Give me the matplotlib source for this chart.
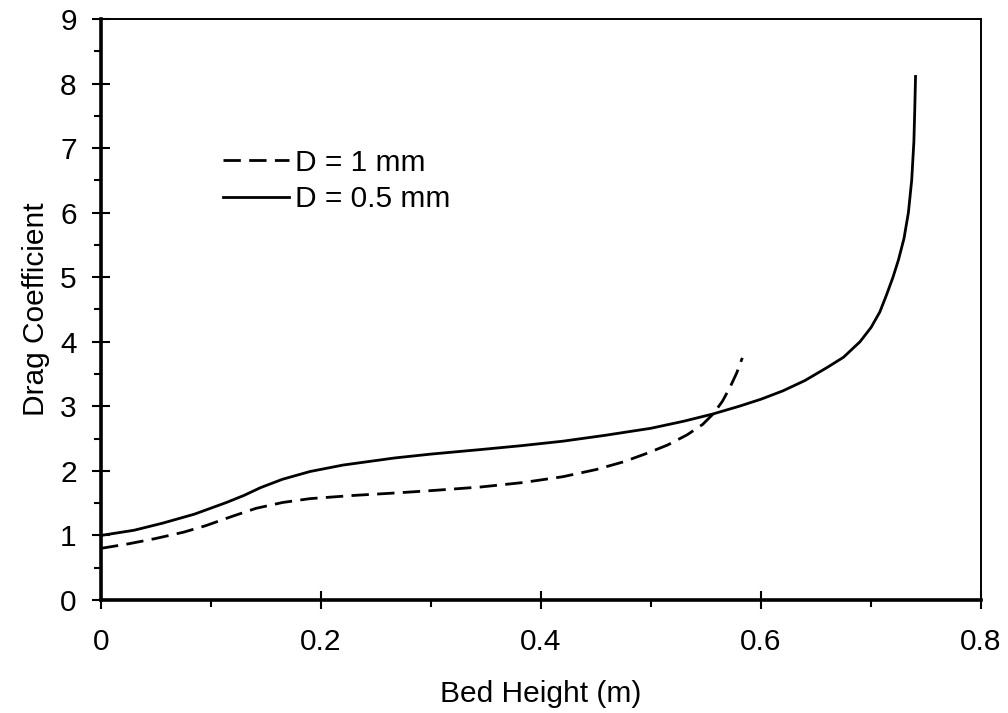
import matplotlib
matplotlib.use("Agg")
import matplotlib.pyplot as plt
from matplotlib.ticker import MultipleLocator, FuncFormatter

plt.rcParams['font.family'] = ['Liberation Sans', 'DejaVu Sans']
plt.rcParams['lines.scale_dashes'] = False

# D = 0.5 mm (solid)
x_half = [0.0, 0.03, 0.056, 0.085, 0.114, 0.13, 0.145, 0.165, 0.19, 0.22,
          0.267, 0.30, 0.345, 0.382, 0.42, 0.458, 0.50, 0.53, 0.556, 0.58,
          0.60, 0.62, 0.64, 0.66, 0.675, 0.69, 0.70, 0.708, 0.714, 0.72,
          0.725, 0.73, 0.734, 0.737, 0.739, 0.7398, 0.7405]
y_half = [1.00, 1.08, 1.19, 1.33, 1.51, 1.62, 1.74, 1.87, 1.99, 2.09,
          2.20, 2.26, 2.33, 2.39, 2.46, 2.55, 2.66, 2.77, 2.88, 3.00,
          3.11, 3.24, 3.40, 3.60, 3.76, 4.00, 4.22, 4.46, 4.72, 5.00,
          5.27, 5.60, 6.00, 6.50, 7.10, 7.60, 8.11]

# D = 1 mm (dashed)
x_one = [0.0, 0.025, 0.049, 0.075, 0.095, 0.12, 0.141, 0.165, 0.19, 0.23,
         0.27, 0.305, 0.345, 0.384, 0.42, 0.45, 0.475, 0.496, 0.515, 0.533,
         0.547, 0.557, 0.565, 0.572, 0.578, 0.583]
y_one = [0.80, 0.87, 0.95, 1.05, 1.15, 1.30, 1.42, 1.51, 1.57, 1.62,
         1.66, 1.70, 1.75, 1.82, 1.91, 2.02, 2.14, 2.27, 2.40, 2.56,
         2.72, 2.89, 3.08, 3.30, 3.52, 3.75]

x_label = "Bed Height (m)"
y_label = "Drag Coefficient"
labels = ["D = 1 mm", "D = 0.5 mm"]

fs = 21.5
fig = plt.figure(figsize=(10.08, 7.13), dpi=100)
ax = fig.add_axes([0.1002, 0.1585, 0.873, 0.8149])

ax.plot(x_one, y_one, color='black', lw=2.0, dashes=(12.5, 6), label=labels[0])
ax.plot(x_half, y_half, color='black', lw=2.0, label=labels[1])

ax.set_xlim(0, 0.8)
ax.set_ylim(0, 9)
ax.xaxis.set_major_locator(MultipleLocator(0.2))
ax.xaxis.set_minor_locator(MultipleLocator(0.1))
ax.yaxis.set_major_locator(MultipleLocator(1))
ax.yaxis.set_minor_locator(MultipleLocator(0.5))
ax.xaxis.set_major_formatter(FuncFormatter(lambda v, p: "%g" % round(v, 2)))
ax.yaxis.set_major_formatter(FuncFormatter(lambda v, p: "%g" % round(v, 2)))

ax.tick_params(which='major', direction='inout', length=13, width=1.5,
               labelsize=fs, top=False, right=False)
ax.tick_params(which='minor', direction='out', length=5, width=1.5,
               top=False, right=False)
ax.tick_params(axis='x', which='major', pad=14)
ax.tick_params(axis='y', which='major', pad=11)

for s in ['left', 'bottom']:
    ax.spines[s].set_linewidth(2.6)
for s in ['top', 'right']:
    ax.spines[s].set_linewidth(1.4)

ax.set_xlabel(x_label, fontsize=fs, labelpad=17)
ax.set_ylabel(y_label, fontsize=fs, labelpad=7)

ax.legend(loc='upper left', bbox_to_anchor=(0.1386, 0.777), frameon=False,
          fontsize=fs, handlelength=2.2, handletextpad=0.2, borderpad=0,
          borderaxespad=0, labelspacing=0.3)

fig.savefig("out.png", dpi=100)
